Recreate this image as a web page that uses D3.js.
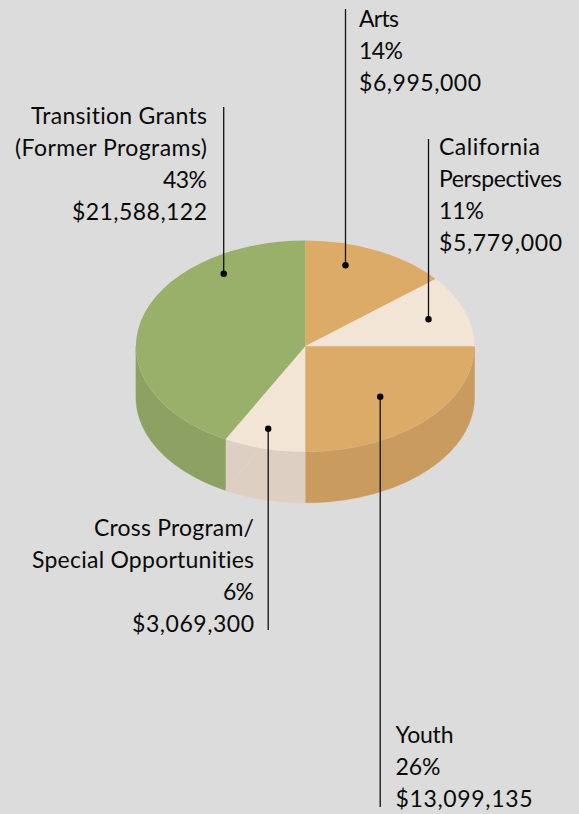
<!DOCTYPE html>
<html><head><meta charset="utf-8">
<script src="https://cdn.jsdelivr.net/npm/d3@7"></script>
<style>html,body{margin:0;padding:0;background:#dcdcdc}svg{display:block}text{font-family:Lato,sans-serif;font-size:23px;fill:#0a0a0a;font-variant-ligatures:none}</style>
</head><body><svg id="c" width="579" height="814"></svg>
<script>
const categories = ["Arts","California Perspectives","Youth","Cross Program/Special Opportunities","Transition Grants (Former Programs)"];
const percents = ["14%","11%","26%","6%","43%"];
const amounts = ["$6,995,000","$5,779,000","$13,099,135","$3,069,300","$21,588,122"];
// slice sizes as drawn in the picture (the drawing is not strictly proportional)
const drawnShares = [14, 11, 25, 7.8, 42.2];
const topColors = ["#dcab68","#f3e5d6","#dcab68","#f3e5d6","#99b06b"];
const sideColors = ["#c99b5e","#ddcfc1","#c99b5e","#ddcfc1","#8da262"];
const labelLines = [["Arts"],["California","Perspectives"],["Youth"],["Cross Program/","Special Opportunities"],["Transition Grants","(Former Programs)"]];
// rendered widths of each label's lines, to match the reference's wider typeface
const lineWidths = [[40,44,122],[101,123,45,123],[58,45,137],[160,222,31,122],[176,192,44,135]];

const cx=305.2, cy=346.2, rx=169.3, ry=105.6, depth=51;
const svg=d3.select("#c");
svg.append("rect").attr("width",579).attr("height",814).attr("fill","#dcdcdc");
const pie=d3.pie().value(d=>d).sort(null)(drawnShares);
const pt=(a,dy=0)=>[cx+rx*Math.sin(a), cy-ry*Math.cos(a)+dy];
const wall=d3.line();
// side walls
pie.forEach((s,i)=>{
  const a0=Math.max(s.startAngle,Math.PI/2), a1=Math.min(s.endAngle,Math.PI*1.5);
  if(a1<=a0) return;
  const as=d3.range(0,61).map(k=>a0+(a1-a0)*k/60);
  const pts=as.map(a=>pt(a)).concat(as.slice().reverse().map(a=>pt(a,depth)));
  svg.append("path").attr("d",wall(pts)+"Z").attr("fill",sideColors[i]).attr("stroke",sideColors[i]).attr("stroke-width",.4);
});
// faint seam on the cross-program wall
svg.append("path").attr("d",wall([pt(pie[3].endAngle,depth),pt(Math.PI*1.085)])).attr("stroke","#e6d9cc").attr("stroke-width",.6).attr("fill","none");
// top face
const arc=d3.arc().innerRadius(0).outerRadius(1);
const face=svg.append("g").attr("transform",`translate(${cx},${cy}) scale(${rx},${ry})`);
face.selectAll("path").data(pie).join("path").attr("d",arc).attr("fill",(d,i)=>topColors[i]);

const leaders=[
 {i:0,x:345.5,y0:9,y1:265.3,tx:359,anchor:"start",base:27},
 {i:1,x:428.5,y0:139,y1:319.3,tx:439,anchor:"start",base:155},
 {i:2,x:380.2,y0:396.7,y1:807,tx:395.5,anchor:"start",base:743},
 {i:3,x:268.2,y0:428.7,y1:630,tx:254,anchor:"end",base:536},
 {i:4,x:223.7,y0:107,y1:273.7,tx:207,anchor:"end",base:124}
];
leaders.forEach(l=>{
  const dotY=(l.i===0||l.i===1||l.i===4)?l.y1:l.y0;
  svg.append("line").attr("x1",l.x).attr("x2",l.x).attr("y1",l.y0).attr("y2",l.y1).attr("stroke","#111").attr("stroke-width",1.3);
  svg.append("circle").attr("cx",l.x).attr("cy",dotY).attr("r",3.2).attr("fill","#000");
  const lines=[...labelLines[l.i],percents[l.i],amounts[l.i]];
  lines.forEach((t,k)=>svg.append("text").attr("x",l.tx).attr("y",l.base+k*32).attr("text-anchor",l.anchor)
    .attr("textLength",lineWidths[l.i][k]).attr("lengthAdjust","spacing").text(t));
});
</script></body></html>
